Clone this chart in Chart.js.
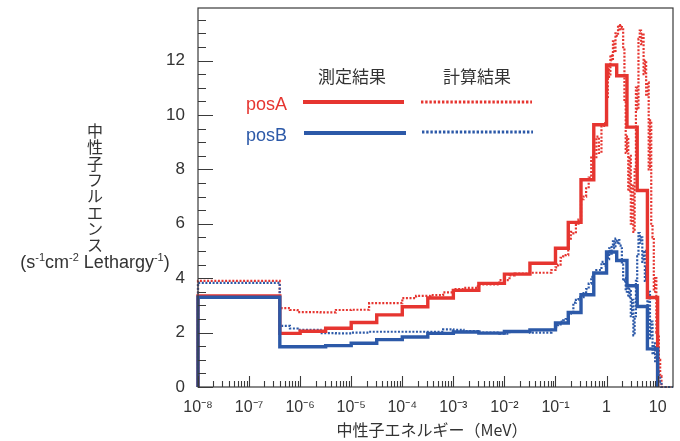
<!DOCTYPE html>
<html>
<head>
<meta charset="utf-8">
<script src="https://cdn.jsdelivr.net/npm/chart.js@4/dist/chart.umd.min.js"></script>
<style>
  html, body { margin: 0; padding: 0; background: #fff; }
  canvas { display: block; }
</style>
</head>
<body>
<canvas id="chart" width="680" height="441"></canvas>
<script>
// measured (unfolded) spectrum: bin edges in MeV
const measEdges = [1e-8, 4e-7, 1e-6, 3.16e-6, 1e-5, 3.16e-5, 1e-4, 3.16e-4, 1e-3, 3.16e-3,
  1e-2, 3.16e-2, 0.1, 0.178, 0.316, 0.562, 1, 1.58, 2.51, 3.98, 6.31, 10];
const measA = [3.35, 1.97, 2.05, 2.16, 2.37, 2.65, 2.95, 3.27, 3.55, 3.81,
  4.15, 4.55, 5.1, 6.05, 7.62, 9.64, 11.84, 11.44, 9.55, 7.22, 3.29];
const measB = [3.30, 1.48, 1.48, 1.52, 1.61, 1.74, 1.84, 1.97, 2.02, 1.98,
  2.04, 2.1, 2.35, 2.74, 3.39, 4.19, 4.96, 4.65, 3.72, 2.96, 1.40];

// calculated spectrum: bin edges as log10(E / MeV)
const calcLogEdges = [
  -8, -6.4, -6.2, -6.05, -5.6, -5.3, -5.0, -4.65, -4.0, -3.73,
  -3.45, -3.2, -3.0, -2.8, -2.52, -2.1, -1.9, -1.8, -1.5, -1.08,
  -1.0, -0.95, -0.9, -0.85, -0.8, -0.75, -0.7, -0.65, -0.6, -0.55,
  -0.5, -0.45, -0.4, -0.35, -0.3, -0.25, -0.2, -0.15, -0.1, -0.05,
  0, 0.025, 0.05, 0.075, 0.1, 0.125, 0.15, 0.175, 0.2, 0.225,
  0.25, 0.275, 0.3, 0.325, 0.35, 0.375, 0.4, 0.425, 0.45, 0.475,
  0.5, 0.525, 0.55, 0.575, 0.6, 0.625, 0.65, 0.675, 0.7, 0.725,
  0.75, 0.775, 0.8, 0.825, 0.85, 0.875, 0.9, 0.925, 0.95, 0.975,
  1.0, 1.025, 1.05, 1.075, 1.1];
const calcA = [
  3.9, 2.9, 2.83, 2.75, 2.74, 2.83, 2.84, 3.08, 3.27, 3.35,
  3.38, 3.48, 3.6, 3.64, 3.77, 3.93, 4.1, 4.17, 4.2, 4.3,
  4.4, 4.5, 4.75, 4.8, 4.85, 5.45, 5.7, 5.65, 6.0, 6.15,
  6.9, 7.0, 7.3, 7.7, 8.5, 8.4, 9.2, 8.6, 9.6, 9.7,
  10.6, 11.8, 11.4, 12.2, 12.0, 12.7, 12.3, 13.0, 12.9, 13.3,
  13.1, 13.3, 13.2, 12.4, 10.5, 8.6, 9.2, 7.2, 8.5, 6.0,
  7.4, 5.7, 8.0, 11.0, 10.2, 12.8, 13.1, 12.6, 13.0, 11.5,
  12.0, 10.7, 11.2, 8.0, 9.8, 6.0, 5.5, 3.5, 4.0, 2.0,
  1.9, 1.0, 0.4, 0];
const calcB = [
  3.83, 2.25, 2.15, 2.1, 1.98, 1.97, 2.0, 2.03, 2.03, 2.03,
  2.03, 2.12, 2.1, 2.05, 2.0, 1.96, 2.04, 2.04, 2.0, 2.1,
  2.2, 2.3, 2.4, 2.45, 2.5, 2.7, 2.75, 3.1, 3.2, 3.3,
  3.3, 3.45, 3.6, 3.8, 4.05, 4.2, 4.3, 4.3, 4.6, 4.45,
  4.9, 4.7, 5.1, 4.9, 5.2, 5.35, 5.1, 5.45, 5.3, 5.4,
  5.2, 5.1, 4.5, 3.9, 4.0, 3.5, 3.8, 3.3, 3.6, 2.6,
  3.2, 1.9, 2.6, 3.9, 4.8, 5.66, 5.3, 5.5, 4.6, 5.0,
  3.9, 4.4, 2.7, 3.5, 1.8, 2.4, 1.2, 1.6, 0.9, 1.1,
  0.6, 0.4, 0.2, 0];

const xLabelValues = [1e-8, 1e-7, 1e-6, 1e-5, 1e-4, 1e-3, 1e-2, 1e-1, 1, 10];
const xLabels = ['10⁻⁸', '10⁻⁷', '10⁻⁶', '10⁻⁵', '10⁻⁴', '10⁻³', '10⁻²', '10⁻¹', '1', '10'];
const yLabelValues = [0, 2, 4, 6, 8, 10, 12];

const RED = '#e63530';
const BLUE = '#2c59a8';
const INK = '#333333';
const LATIN = "'Liberation Sans', Arial, sans-serif";
const CJK = "'Noto Sans CJK JP', sans-serif";

const calcEdges = calcLogEdges.map(e => Math.pow(10, e));

function steps(edges, vals, tail) {
  const pts = [{ x: edges[0], y: 0 }];
  vals.forEach((v, i) => pts.push({ x: edges[i], y: v }));
  pts.push({ x: edges[edges.length - 1], y: 0 });
  if (tail) pts.push({ x: tail, y: 0 });
  return pts;
}

// minor ticks for the log axis
const xTickValues = [];
for (let e = -8; e <= 1; e++) {
  for (let m = 1; m <= 9; m++) {
    const v = m * Math.pow(10, e);
    if (v <= 20) xTickValues.push(v);
  }
}
xTickValues.push(20);
const yTickValues = [];
for (let v = 0; v <= 13.5; v += 0.5) yTickValues.push(v);

const isLabelX = v => xLabelValues.findIndex(l => Math.abs(Math.log10(l) - Math.log10(v)) < 1e-6);

// frame + inward tick marks
const frameTicks = {
  id: 'frameTicks',
  afterDatasetsDraw(chart) {
    const { ctx, chartArea: a, scales: { x, y } } = chart;
    ctx.save();
    ctx.strokeStyle = '#3a3a3a';
    ctx.lineWidth = 1.2;
    ctx.strokeRect(a.left, a.top, a.right - a.left, a.bottom - a.top);
    ctx.lineWidth = 1.1;
    ctx.beginPath();
    x.ticks.forEach(t => {
      if (t.value >= 20) return;
      const px = Math.round(x.getPixelForValue(t.value)) + 0.5;
      const len = isLabelX(t.value) >= 0 ? 11 : 6;
      ctx.moveTo(px, a.bottom);
      ctx.lineTo(px, a.bottom - len);
    });
    y.ticks.forEach(t => {
      const py = Math.round(y.getPixelForValue(t.value)) + 0.5;
      const len = t.value % 2 === 0 ? 15 : 8;
      ctx.moveTo(a.left, py);
      ctx.lineTo(a.left + len, py);
    });
    ctx.stroke();
    ctx.restore();
  }
};

// legend block and axis titles
const annotations = {
  id: 'annotations',
  afterDraw(chart) {
    const ctx = chart.ctx;
    ctx.save();
    ctx.fillStyle = INK;
    ctx.textAlign = 'center';
    ctx.textBaseline = 'middle';
    ctx.font = '17px ' + CJK;
    ctx.fillText('測定結果', 352, 77);
    ctx.fillText('計算結果', 477, 77);

    ctx.textAlign = 'left';
    ctx.textBaseline = 'alphabetic';
    ctx.font = '18px ' + LATIN;
    ctx.fillStyle = RED;
    ctx.fillText('posA', 246, 110);
    ctx.fillStyle = BLUE;
    ctx.fillText('posB', 246, 141);

    const sample = (x0, x1, yy, color, dashed) => {
      ctx.beginPath();
      ctx.strokeStyle = color;
      ctx.lineWidth = dashed ? 3 : 4;
      ctx.setLineDash(dashed ? [2.4, 1.8] : []);
      ctx.moveTo(x0, yy);
      ctx.lineTo(x1, yy);
      ctx.stroke();
    };
    sample(303, 404, 102, RED, false);
    sample(421, 532, 102, RED, true);
    sample(304, 406, 133, BLUE, false);
    sample(422, 533, 132, BLUE, true);
    ctx.setLineDash([]);

    // y title, vertical characters
    ctx.fillStyle = INK;
    ctx.textAlign = 'center';
    ctx.textBaseline = 'middle';
    ctx.font = '16px ' + CJK;
    Array.from('中性子フルエンス').forEach((ch, i) => ctx.fillText(ch, 95, 131 + i * 16.3));

    // unit line with superscripts
    const parts = [['(s', 0], ['-1', 1], ['cm', 0], ['-2', 1], [' Lethargy', 0], ['-1', 1], [')', 0]];
    const fontFor = sup => (sup ? '11px ' : '18px ') + LATIN;
    let total = 0;
    parts.forEach(([t, s]) => { ctx.font = fontFor(s); total += ctx.measureText(t).width; });
    let cx = 95 - total / 2;
    ctx.textAlign = 'left';
    ctx.textBaseline = 'alphabetic';
    parts.forEach(([t, s]) => {
      ctx.font = fontFor(s);
      ctx.fillText(t, cx, s ? 261 : 268);
      cx += ctx.measureText(t).width;
    });

    // x title
    ctx.textAlign = 'center';
    ctx.textBaseline = 'middle';
    ctx.font = '16px ' + CJK;
    ctx.fillText('中性子エネルギー（MeV）', 432, 430);
    ctx.restore();
  }
};

const ctx = document.getElementById('chart').getContext('2d');
new Chart(ctx, {
  type: 'line',
  data: {
    datasets: [
      { data: steps(measEdges, measB), borderColor: BLUE, borderWidth: 3.4, order: 1 },
      { data: steps(measEdges, measA), borderColor: RED, borderWidth: 3.4, order: 2 },
      { data: steps(calcEdges, calcB, 20), borderColor: BLUE, borderWidth: 2.2, borderDash: [2, 1.6], order: 3 },
      { data: steps(calcEdges, calcA, 20), borderColor: RED, borderWidth: 2.2, borderDash: [2, 1.6], order: 4 }
    ].map(d => Object.assign({ stepped: true, pointRadius: 0, fill: false, clip: false }, d))
  },
  options: {
    responsive: false,
    animation: false,
    layout: { padding: { left: 0, right: 7, top: 8, bottom: 0 } },
    plugins: { legend: { display: false }, tooltip: { enabled: false } },
    scales: {
      x: {
        type: 'logarithmic',
        min: 1e-8,
        max: 20,
        grid: { display: false },
        border: { display: false },
        afterBuildTicks: s => { s.ticks = xTickValues.map(v => ({ value: v })); },
        afterFit: s => { s.height = 54; s.paddingLeft = 0; s.paddingRight = 0; },
        ticks: {
          autoSkip: false,
          maxRotation: 0,
          padding: 3,
          color: INK,
          font: { family: LATIN, size: 16 },
          callback: v => { const i = isLabelX(v); return i >= 0 ? xLabels[i] : ''; }
        }
      },
      y: {
        min: 0,
        max: 13.93,
        grid: { display: false },
        border: { display: false },
        afterBuildTicks: s => { s.ticks = yTickValues.map(v => ({ value: v })); },
        afterFit: s => { s.width = 198; s.paddingTop = 0; s.paddingBottom = 0; },
        ticks: {
          autoSkip: false,
          padding: 5,
          color: INK,
          font: { family: LATIN, size: 17 },
          callback: v => (yLabelValues.includes(v) ? String(v) : '')
        }
      }
    }
  },
  plugins: [frameTicks, annotations]
});
</script>
</body>
</html>
